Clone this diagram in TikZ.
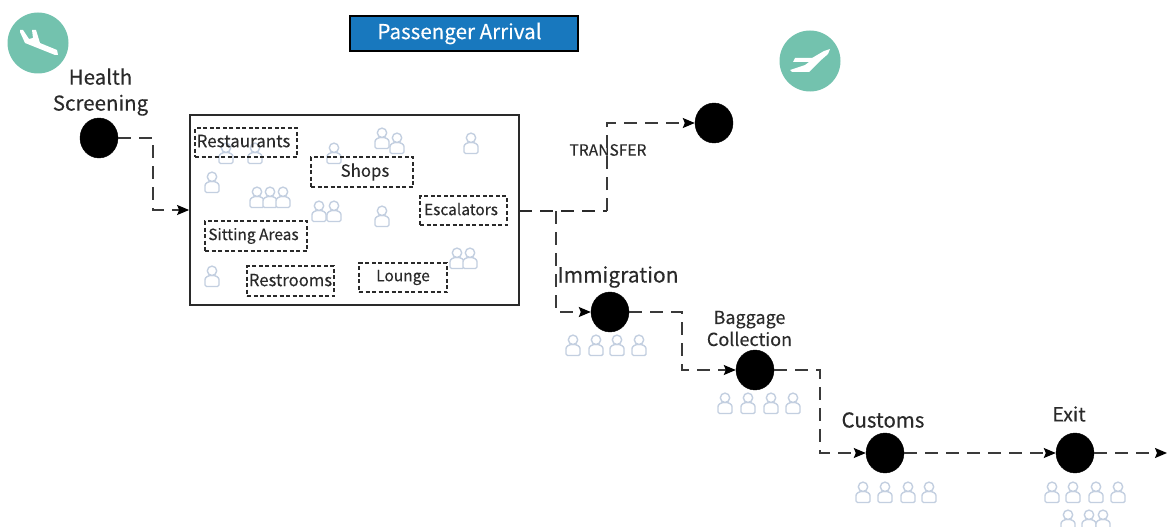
\documentclass[tikz,border=0pt]{standalone}
\usepackage{fontspec}
\setmainfont{Noto Sans CJK KR}[FakeBold=0.25]
\usetikzlibrary{arrows.meta,shapes.geometric}
\definecolor{teal}{HTML}{73C2AE}
\definecolor{headblue}{HTML}{1878BE}
\definecolor{personc}{HTML}{C3CFE0}
\definecolor{ink}{HTML}{2A2A2A}
\definecolor{linec}{HTML}{3A3A3A}
\tikzset{
  stop/.style={ellipse,fill=black,draw=black,minimum width=38pt,minimum height=40pt,inner sep=0pt},
  flow/.style={draw=linec,line width=1.3pt,dash pattern=on 13pt off 8pt},
  flowheavy/.style={flow,draw=ink,line width=2.2pt},
  tip/.style={-{Stealth[length=12pt,width=10pt,inset=2pt,black]}},
  zone/.style={draw=ink,line width=2pt,dash pattern=on 4pt off 2.5pt,inner sep=0pt,text=ink},
  lab/.style={text=ink,align=center,inner sep=0pt},
  badge/.style={circle,fill=teal,minimum size=61pt,inner sep=0pt},
  person/.pic={
    \draw[personc,line width=1.4pt,fill=white,rounded corners=1.5pt] (-7,20.5) -- (-7,15) .. controls (-7,11) and (-3,9.5) .. (0,9.5)
      .. controls (3,9.5) and (7,11) .. (7,15) -- (7,20.5) -- cycle;
    \draw[personc,line width=1.4pt,fill=white] (0,4.8) circle (4.7);
  }
}
\begin{document}
\begin{tikzpicture}[x=1pt,y=-1pt]
\useasboundingbox (0,0) rectangle (1167,527);
\node[badge] (landing) at (38,43) {};
\node[badge] (departure) at (810,61) {};
\fill[white] (20,30) -- (23,30) -- (29,39) -- (33,38) -- (32,30) -- (36,30) -- (40,43) -- (57,50) -- (58,55)
  -- (55,55) -- (25,43) -- (20,32) -- cycle;
\fill[white] (830,49) -- (828,54) -- (820,61) -- (809,72) -- (792,72) -- (790,70) -- (805,65)
  -- (809,62) -- (793,62) -- (795,58) -- (812,58) -- (824,51) -- cycle;

\node[draw=black,line width=1.8pt,fill=headblue,minimum width=228pt,minimum height=35pt,inner sep=0pt,text=white,font=\fontsize{20.6}{24}\selectfont] (title) at (464,33.5) {\raisebox{-3.5pt}{\hspace*{-9pt}Passenger Arrival}};

\node[draw=ink,line width=1.8pt,minimum width=329pt,minimum height=190pt,inner sep=0pt] (main) at (354.5,210) {};

\foreach \x/\y in {226/143,255/143,212/172,257/187,270/187,283/187,319/201,334/201,382/206,334/143,382/128,397/133,471/133,212/266,457/248,470/248,
  573/335,596/335,617/335,639/335,725/393,748/393,771/393,793/393,863/482,885/482,908/482,929/482,1052/482,1073/482,1096/482,1118/482,1068/510,1089/510,1103/510}
  \pic at (\x,\y) {person};

\node[zone,minimum width=102pt,minimum height=29pt,font=\fontsize{17}{18}\selectfont] (restaurants) at (246,142.5) {\raisebox{3pt}{\hspace*{-5pt}Restaurants}};
\node[zone,minimum width=102pt,minimum height=30pt,font=\fontsize{16.8}{18}\selectfont] (shops) at (362,172) {\raisebox{-1pt}{\hspace*{6pt}Shops}};
\node[zone,line width=1.5pt,minimum width=87pt,minimum height=29pt,font=\fontsize{15.5}{18}\selectfont] (escalators) at (463.5,210.5) {\raisebox{3pt}{\hspace*{-5pt}Escalators}};
\node[zone,minimum width=102pt,minimum height=30pt,font=\fontsize{15.5}{18}\selectfont] (sitting) at (256,236) {\raisebox{2.5pt}{\hspace*{-5pt}Sitting Areas}};
\node[zone,minimum width=87pt,minimum height=30pt,font=\fontsize{16.7}{18}\selectfont] (restrooms) at (290.5,281) {\raisebox{2pt}{Restrooms}};
\node[zone,minimum width=88pt,minimum height=29pt,font=\fontsize{15.5}{18}\selectfont] (lounge) at (403,277.5) {\raisebox{3pt}{Lounge}};

\node[stop] (health) at (99,138) {};
\node[stop] (transfer) at (714,123) {};
\node[stop] (immigration) at (610,312) {};
\node[stop] (baggage) at (755,370) {};
\node[stop] (customs) at (885,453) {};
\node[stop] (exit) at (1075,453) {};

\node[lab,font=\fontsize{20.5}{26}\selectfont] (lhealth) at (100.5,92) {Health\\Screening};
\node[lab,font=\fontsize{15.6}{18}\selectfont] (ltransfer) at (608,150) {TRANSFER};
\node[lab,font=\fontsize{21}{25}\selectfont] (limmigration) at (618,277) {Immigration};
\node[lab,font=\fontsize{18}{22}\selectfont] (lbaggage) at (749.5,328.5) {Baggage\\Collection};
\node[lab,font=\fontsize{20.5}{24}\selectfont] (lcustoms) at (883,420) {Customs};
\node[lab,font=\fontsize{19.5}{23}\selectfont] (lexit) at (1069,414) {Exit};

\coordinate (b1) at (153,170);
\coordinate (j2) at (607,211);
\coordinate (j1) at (556,211);
\coordinate (m2) at (519,211);
\coordinate (b3) at (682,340);
\coordinate (b4) at (820,410);
\coordinate (out) at (1167,453);

\draw[flow,tip] (health.east) -| (b1) |- (main.west);
\draw[flowheavy] (m2) -- (j2);
\draw[flow,tip] (j2) |- (transfer.west);
\draw[flow,tip] (j1) |- (immigration.west);
\draw[flow,tip] (immigration.east) -| (b3) |- (baggage.west);
\draw[flow,tip] (baggage.east) -| (b4) |- (customs.west);
\draw[flow,tip] (customs.east) -- (exit.west);
\draw[flow,tip] (exit.east) -- (out);
\end{tikzpicture}
\end{document}
